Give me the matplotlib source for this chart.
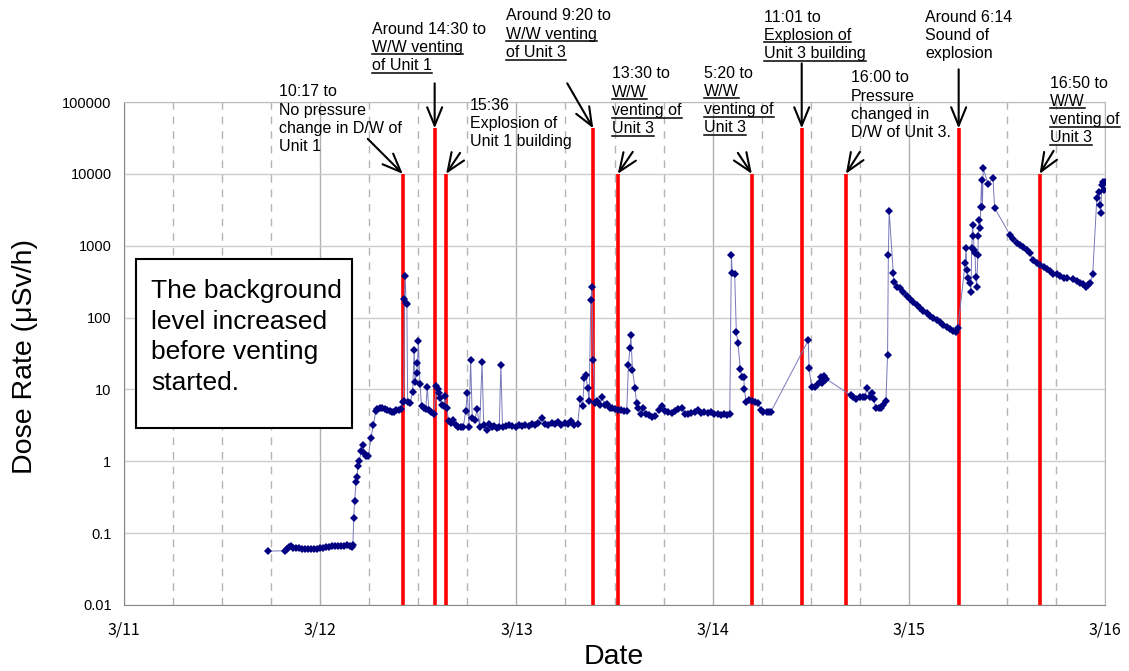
import matplotlib
matplotlib.use('Agg')
import matplotlib.pyplot as plt
from matplotlib.lines import Line2D
from matplotlib.patches import Rectangle

plt.rcParams['font.family'] = ['Liberation Sans', 'DejaVu Sans']

# hours since 3/11 0:00 and dose rate (uSv/h)
hours = [17.6, 19.7, 19.9, 20.2, 20.4, 20.7, 21.0, 21.4, 21.8, 22.1, 22.5, 22.9, 23.2, 23.6,
         24.0, 24.3, 24.7, 25.1, 25.4, 25.8, 26.2, 26.5, 26.9, 27.3, 27.6, 27.9, 28.0,
         28.1, 28.2, 28.4, 28.5, 28.6, 28.8, 29.0, 29.2, 29.4, 29.6, 29.9, 30.2, 30.5, 30.8,
         31.0, 31.3, 31.6, 31.9, 32.2, 32.5, 32.8, 33.0, 33.3, 33.6, 33.9,
         34.1, 34.2, 34.3, 34.4, 34.5, 34.6, 34.7, 35.0, 35.3, 35.5, 35.6, 35.8, 35.9, 36.0,
         36.2, 36.4, 36.7, 36.9, 37.1, 37.3, 37.6, 37.9, 38.2, 38.35, 38.5, 38.7, 38.9, 39.1,
         39.3, 39.5, 39.7, 40.0, 40.3, 40.6, 40.9, 41.2, 41.5, 41.8, 42.0, 42.2, 42.4, 42.6,
         42.9, 43.2, 43.5, 43.8, 44.0, 44.4, 44.7, 45.0, 45.3, 45.6, 45.9, 46.1, 46.3,
         46.7, 47.1, 47.5, 47.9, 48.3, 48.7, 49.1, 49.5, 49.9, 50.3, 50.7, 51.1, 51.5, 51.9,
         52.3, 52.7, 53.1, 53.5, 53.9, 54.3, 54.7, 55.1, 55.5,
         55.8, 56.1, 56.3, 56.5, 56.7, 56.9, 57.1, 57.25, 57.4, 57.6, 57.9, 58.2, 58.5, 58.8,
         59.1, 59.4, 59.7, 60.0, 60.4, 60.8, 61.2, 61.5, 61.7, 61.9, 62.0, 62.2, 62.5, 62.7,
         62.9, 63.2, 63.5, 63.8, 64.2, 64.6, 65.0, 65.4, 65.8, 66.2, 66.6, 67.0, 67.4, 67.8,
         68.2, 68.6, 69.0, 69.4, 69.8, 70.2, 70.6, 71.0, 71.4, 71.8, 72.2, 72.6, 73.0, 73.4,
         73.8, 74.1, 74.3, 74.4, 74.7, 74.9, 75.1, 75.4, 75.6, 75.8, 75.9, 76.1, 76.4, 76.8,
         77.2, 77.6, 77.9, 78.2, 78.6, 78.9, 79.1,
         83.7, 83.8, 84.1, 84.5, 84.8, 85.1, 85.3, 85.4, 85.6, 85.7, 85.9,
         88.9, 89.2, 89.6, 90.0, 90.4, 90.6, 90.9, 91.2, 91.5, 91.7, 92.0, 92.3, 92.6, 92.9,
         93.2, 93.4, 93.5, 93.6, 94.1, 94.2, 94.5, 94.9, 95.3, 95.8, 96.1, 96.5, 97.0, 97.4,
         97.7, 98.2, 98.6, 99.0, 99.4, 99.8, 100.2, 100.7, 101.0, 101.4, 101.8, 102.0,
         102.9, 103.0, 103.1, 103.2, 103.5, 103.6, 103.7, 103.8, 103.9, 104.0, 104.1, 104.2,
         104.3, 104.45, 104.5, 104.6, 104.7, 104.8, 104.9, 105.0, 105.1, 105.7, 106.3, 106.5,
         108.4, 108.7, 109.2, 109.6, 110.0, 110.5, 110.8, 111.2, 111.7, 112.0, 112.5, 112.9,
         113.3, 113.6, 114.1, 114.5, 115.0, 115.4, 116.1, 116.6, 116.9, 117.3, 117.7, 117.9,
         118.2, 118.5, 119.0, 119.3, 119.4, 119.5, 119.6, 119.8, 119.9, 120.0]
dose = [0.056, 0.057, 0.060, 0.064, 0.066, 0.063, 0.062, 0.063, 0.061, 0.060, 0.061, 0.060, 0.061, 0.060,
        0.062, 0.062, 0.064, 0.065, 0.066, 0.066, 0.066, 0.067, 0.066, 0.068, 0.067, 0.065, 0.068,
        0.16, 0.28, 0.52, 0.6, 0.85, 1.0, 1.4, 1.7, 1.3, 1.2, 1.2, 2.1, 3.2, 5.0,
        5.4, 5.6, 5.5, 5.3, 5.2, 5.0, 4.8, 4.9, 5.1, 5.2, 5.3,
        6.6, 6.9, 180, 380, 160, 155, 6.6, 6.4, 9.2, 35, 12.6, 17, 23, 47,
        12, 5.8, 5.6, 5.3, 10.7, 5.1, 4.8, 4.6, 11, 10, 9, 7.5, 6.0, 5.8,
        8.0, 5.5, 3.6, 3.4, 3.7, 3.2, 3.0, 3.0, 3.0, 5.0, 8.9, 3.0, 26, 4.0,
        3.7, 5.3, 3.0, 24, 3.2, 2.7, 3.3, 3.0, 3.1, 2.9, 3.0, 22, 3.0,
        3.1, 3.2, 3.1, 3.0, 3.2, 3.1, 3.2, 3.1, 3.3, 3.2, 3.4, 4.0, 3.3, 3.2,
        3.4, 3.3, 3.5, 3.2, 3.4, 3.3, 3.6, 3.2, 3.3,
        7.3, 5.8, 14.3, 15.7, 10.4, 7.0, 175, 270, 26, 6.4, 6.8, 6.0, 7.8, 6.0,
        6.2, 5.5, 5.6, 5.3, 5.2, 5.1, 5.0, 5.0, 22, 38, 57, 18.5, 10.4, 6.5,
        5.6, 4.6, 5.5, 4.6, 4.4, 4.1, 4.3, 5.2, 5.8, 5.0, 4.8, 4.7, 5.0, 5.3,
        5.6, 4.6, 4.5, 4.7, 4.8, 5.2, 4.7, 4.8, 4.7, 4.9, 4.6, 4.5, 4.4, 4.5,
        4.4, 4.6, 740, 420, 410, 63, 44, 19, 15, 14.8, 10, 6.6, 7.1, 6.9,
        6.6, 6.4, 5.2, 4.9, 4.8, 4.8, 4.8,
        48, 19.7, 10.7, 10.7, 11.5, 12.6, 14.8, 12.2, 15.2, 13.4, 14,
        8.3, 7.8, 7.3, 7.8, 7.8, 7.8, 10.4, 7.8, 8.9, 7.3, 5.5, 5.5, 5.6, 6.0,
        6.8, 30, 740, 3000, 420, 310, 270, 255, 230, 200, 180, 165, 150, 135,
        125, 115, 106, 98, 92, 86, 80, 74, 70, 66, 63, 71,
        570, 930, 460, 350, 300, 230, 930, 1950, 1360, 870, 790, 370,
        265, 740, 1360, 2250, 1750, 3450, 8100, 3450, 12000, 7200, 8700, 3350,
        1400, 1250, 1100, 1030, 960, 870, 790, 630, 580, 540, 500, 470,
        440, 410, 400, 380, 360, 350, 340, 320, 300, 290, 265, 280,
        300, 410, 4600, 5600, 3700, 2850, 6900, 7800, 5900, 7700]

day_ticks = [0, 24, 48, 72, 96, 120]
day_labels = ['3/11', '3/12', '3/13', '3/14', '3/15', '3/16']
y_ticks = [0.01, 0.1, 1, 10, 100, 1000, 10000, 100000]
y_labels = ['0.01', '0.1', '1', '10', '100', '1000', '10000', '100000']

event_hours = [34.1, 38.0, 39.4, 57.4, 60.4, 76.8, 82.9, 88.3, 102.1, 112.0]
event_tops = [1e4, 4.3e4, 1e4, 4.3e4, 1e4, 1e4, 4.3e4, 1e4, 4.3e4, 1e4]
event_text = [
    ['10:17 to', 'No pressure', 'change in D/W of', 'Unit 1'],
    ['Around 14:30 to', 'W/W venting', 'of Unit 1'],
    ['15:36', 'Explosion of', 'Unit 1 building'],
    ['Around 9:20 to', 'W/W venting', 'of Unit 3'],
    ['13:30 to', 'W/W', 'venting of', 'Unit 3'],
    ['5:20 to', 'W/W', 'venting of', 'Unit 3'],
    ['11:01 to', 'Explosion of', 'Unit 3 building'],
    ['16:00 to', 'Pressure', 'changed in', 'D/W of Unit 3.'],
    ['Around 6:14', 'Sound of', 'explosion'],
    ['16:50 to', 'W/W', 'venting of', 'Unit 3'],
]
event_underline = [
    [0, 0, 0, 0], [0, 1, 1], [0, 0, 0], [0, 1, 1], [0, 1, 1, 1],
    [0, 1, 1, 1], [0, 1, 1], [0, 0, 0, 0], [0, 0, 0], [0, 1, 1, 1],
]
note_text = ['The background', 'level increased', 'before venting', 'started.']

# layout (image pixels, origin top-left)
W, H = 1129, 671
text_pos = [(279, 92), (372, 29), (470, 105), (506, 16), (612, 74),
            (704, 73), (764, 17), (851, 78), (925, 17), (1050, 83)]
arrow_off = [(-35, 35), (0, 45), (14, 21), (-26, 45), (15, 22),
             (-14, 21), (0, 65), (14, 22), (0, 59), (14, 23)]

fig = plt.figure(figsize=(W / 100, H / 100), dpi=100)
ax = fig.add_axes([124 / W, 1 - 605 / H, (1105 - 124) / W, (605 - 102) / H])

ax.set_yscale('log')
ax.set_xlim(0, 120)
ax.set_ylim(0.01, 100000)
ax.set_yticks(y_ticks, y_labels)
ax.minorticks_off()
ax.set_xticks(day_ticks, day_labels, fontfamily='Noto Sans CJK JP', fontsize=11.5)
ax.set_xticks([h for h in range(6, 120, 6) if h % 24], minor=True)
ax.tick_params(axis='both', which='both', length=0)
ax.tick_params(axis='y', labelsize=10.5, pad=9)
ax.tick_params(axis='x', pad=12)
ax.yaxis.grid(True, color='#cccccc', lw=1)
ax.xaxis.grid(True, which='major', color='#b0b0b0', lw=1)
ax.xaxis.grid(True, which='minor', color='#b4b4b4', lw=1, ls=(0, (5.5, 5)))
ax.set_axisbelow(True)
for s in ['left', 'bottom']:
    ax.spines[s].set_color('#888888')
for s in ['top', 'right']:
    ax.spines[s].set_color('#bbbbbb')

ax.vlines(event_hours, 0.01, event_tops, color='red', lw=2.6, zorder=3)
ax.plot(hours, dose, color='#7777bb', lw=0.7, zorder=4)
ax.plot(hours, dose, 'D', ms=4, mew=0, color='#000080', zorder=5)

for h, top, (dx, dy) in zip(event_hours, event_tops, arrow_off):
    ax.annotate('', xy=(h, top), xytext=(dx, dy), textcoords='offset pixels',
                annotation_clip=False,
                arrowprops=dict(arrowstyle='->,head_length=1.1,head_width=0.45',
                                color='black', lw=1.5, mutation_scale=12,
                                shrinkA=0, shrinkB=0))

fig.text(25 / W, 1 - 357 / H, 'Dose Rate (\u03bcSv/h)', rotation=90, fontsize=20.5,
         ha='center', va='center')
fig.text(614 / W, 1 - 657 / H, 'Date', fontsize=20.5, ha='center', va='center')

fig.add_artist(Rectangle((136 / W, 1 - 428 / H), (352 - 136) / W, (428 - 259) / H,
                         transform=fig.transFigure, fill=True, facecolor='white',
                         edgecolor='black', lw=1.5))
for i, s in enumerate(note_text):
    fig.text(151 / W, 1 - (291 + i * 30.7) / H, s, fontsize=19, ha='left', va='center')

lines = []
for (x0, y0), txt, ul in zip(text_pos, event_text, event_underline):
    for i, (s, u) in enumerate(zip(txt, ul)):
        cy = y0 + i * 18.3
        t = fig.text(x0 / W, 1 - cy / H, s, fontsize=11.5, ha='left', va='center')
        if u:
            lines.append((t, cy))

fig.canvas.draw()
renderer = fig.canvas.get_renderer()
for t, cy in lines:
    bb = t.get_window_extent(renderer)
    yy = 1 - (cy + 7) / H
    fig.add_artist(Line2D([bb.x0 / W, bb.x1 / W], [yy, yy], transform=fig.transFigure,
                          color='black', lw=1.1))

fig.savefig('out.png', dpi=100)
